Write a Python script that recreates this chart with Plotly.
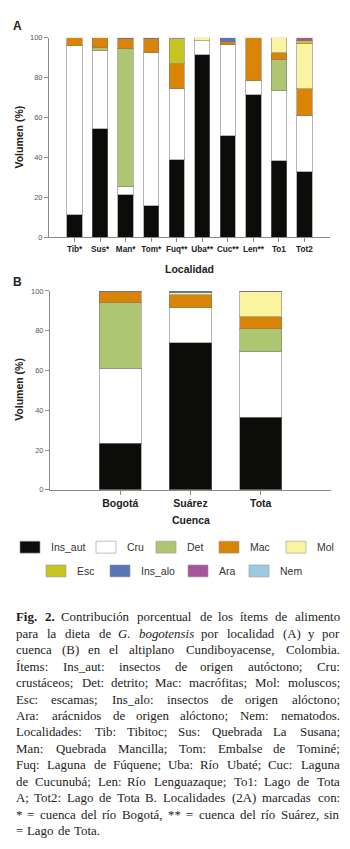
import unicodedata
import plotly.graph_objects as go

# ---------------- data ----------------
items = ["Ins_aut", "Cru", "Det", "Mac", "Mol", "Esc", "Ins_alo", "Ara", "Nem"]
colors = ["#0c0c09", "#ffffff", "#aec672", "#d98307", "#faf4a1", "#c6c322", "#5a75b3", "#a5559b", "#9ccbe0"]

localidades = ["Tib*", "Sus*", "Man*", "Tom*", "Fuq**", "Uba**", "Cuc**", "Len**", "To1", "Tot2"]
ins_aut_a = [11.5, 54.5, 21.5, 16, 39, 91.5, 51, 71.5, 38.5, 33]
cru_a = [84.5, 39, 4, 76.5, 35.5, 7, 45.5, 7, 35, 28]
det_a = [0, 1.5, 69, 0, 0, 0, 0, 0, 15.5, 0]
mac_a = [4, 5, 5, 7, 12.5, 0, 1.5, 21.5, 3.5, 13.5]
mol_a = [0, 0, 0, 0, 0, 1.5, 0, 0, 7.5, 22.5]
esc_a = [0, 0, 0, 0, 12.5, 0, 0, 0, 0, 1.5]
ins_alo_a = [0, 0, 0.5, 0.5, 0, 0, 2, 0, 0, 0]
ara_a = [0, 0, 0, 0, 0, 0, 0, 0, 0, 1.5]
nem_a = [0, 0, 0, 0, 0.5, 0, 0, 0, 0, 0]

cuencas = ["Bogotá", "Suárez", "Tota"]
ins_aut_b = [23.5, 74, 36.5]
cru_b = [37.5, 17.5, 33]
det_b = [33, 0, 11.5]
mac_b = [5.5, 6.5, 6]
mol_b = [0, 1, 12.5]
esc_b = [0, 0, 0]
ins_alo_b = [0.5, 1, 0]
ara_b = [0, 0, 0.5]
nem_b = [0, 0, 0]

y_ticks = [0, 20, 40, 60, 80, 100]

series_a = [ins_aut_a, cru_a, det_a, mac_a, mol_a, esc_a, ins_alo_a, ara_a, nem_a]
series_b = [ins_aut_b, cru_b, det_b, mac_b, mol_b, esc_b, ins_alo_b, ara_b, nem_b]

caption_lines = [
    "<b>Fig.</b> <b>2.</b> Contribución porcentual de los ítems de alimento",
    "para la dieta de <i>G.</i> <i>bogotensis</i> por localidad (A) y por",
    "cuenca (B) en el altiplano Cundiboyacense, Colombia.",
    "Ítems: Ins_aut: insectos de origen autóctono; Cru:",
    "crustáceos; Det: detrito; Mac: macrófitas; Mol: moluscos;",
    "Esc: escamas; Ins_alo: insectos de origen alóctono;",
    "Ara: arácnidos de origen alóctono; Nem: nematodos.",
    "Localidades: Tib: Tibitoc; Sus: Quebrada La Susana;",
    "Man: Quebrada Mancilla; Tom: Embalse de Tominé;",
    "Fuq: Laguna de Fúquene; Uba: Río Ubaté; Cuc: Laguna",
    "de Cucunubá; Len: Río Lenguazaque; To1: Lago de Tota",
    "A; Tot2: Lago de Tota B. Localidades (2A) marcadas con:",
    "* = cuenca del río Bogotá, ** = cuenca del río Suárez, sin",
    "= Lago de Tota.",
]

# ---------------- layout helpers ----------------
W, H = 350, 849
def px(x):
    return x / W
def py(y):
    return 1 - y / H

def nz(v):
    return [None if x == 0 else x for x in v]

fig = go.Figure()
edge = dict(color="rgba(120,120,120,0.55)", width=1)
for name, col, va, vb in zip(items, colors, series_a, series_b):
    fig.add_trace(go.Bar(x=localidades, y=nz(va), name=name, marker=dict(color=col, line=edge),
                         width=0.6, xaxis="x", yaxis="y", showlegend=False, hoverinfo="skip"))
    fig.add_trace(go.Bar(x=cuencas, y=nz(vb), name=name, marker=dict(color=col, line=edge),
                         width=0.6, xaxis="x2", yaxis="y2", showlegend=False, hoverinfo="skip"))

sans = "Liberation Sans, Arial, sans-serif"
serif = "Liberation Serif, Times New Roman, serif"
axcol = "#8a8a8a"

common_y = dict(range=[0, 100], tickvals=y_ticks, showgrid=False, zeroline=False,
                showline=True, linecolor=axcol, linewidth=1, ticks="outside", ticklen=4,
                tickcolor=axcol, tickfont=dict(family=sans, size=7.5, color="#555"))
common_x = dict(type="category", showgrid=False, zeroline=False, showline=True,
                linecolor=axcol, linewidth=1, ticks="outside", ticklen=4, tickcolor=axcol)

fig.update_layout(
    width=W, height=H, autosize=False,
    margin=dict(l=0, r=0, t=0, b=0),
    paper_bgcolor="white", plot_bgcolor="white",
    barmode="stack", bargap=0.4,
    xaxis=dict(common_x, domain=[px(49), px(330)], range=[-1, 10], anchor="y",
               tickfont=dict(family=sans, size=8.2, color="#222", weight="bold")),
    yaxis=dict(common_y, domain=[py(236), py(34)], anchor="x"),
    xaxis2=dict(common_x, domain=[px(50), px(331)], range=[-1, 3], anchor="y2",
                tickfont=dict(family=sans, size=10.5, color="#222", weight="bold")),
    yaxis2=dict(common_y, domain=[py(491), py(290)], anchor="x2"),
)

ann = []
def add_text(x, y, text, size, family=sans, color="#222", xanchor="center", angle=0, bold=False):
    ann.append(dict(x=px(x), y=py(y), xref="paper", yref="paper", text=text, showarrow=False,
                    xanchor=xanchor, yanchor="middle", textangle=angle,
                    font=dict(family=family, size=size, color=color, weight="bold" if bold else "normal")))

add_text(17.5, 22, "A", 12, bold=True)
add_text(17.5, 281, "B", 12, bold=True)
add_text(19, 135, "Volumen (%)", 10.5, angle=-90, bold=True)
add_text(19, 390, "Volumen (%)", 10.5, angle=-90, bold=True)
add_text(189.5, 268, "Localidad", 10.5, bold=True)
add_text(190.5, 522, "Cuenca", 10.5, bold=True)

# ---------------- legend (manual) ----------------
legend_pos = [  # swatch left x, row y
    (20, 549), (96, 549), (156, 549), (219, 549), (286, 549),
    (46, 573), (110, 573), (188, 573), (249, 573),
]
shapes = []
for (lx, ly), name, col in zip(legend_pos, items, colors):
    shapes.append(dict(type="rect", xref="paper", yref="paper",
                       x0=px(lx), x1=px(lx + 20), y0=py(ly + 6), y1=py(ly - 6),
                       fillcolor=col, line=dict(color="rgba(150,150,150,0.6)", width=1)))
    add_text(lx + 29, ly, name, 10.5, color="#333", xanchor="left")

# ---------------- caption (justified) ----------------
TW = {}
for chars, w in [("abdghnopquvxy", 500), ("ce", 444), ("fr", 333), ("ijlt", 278), ("m", 778),
                 ("s", 389), ("k", 500), ("w", 722), ("z", 444),
                 ("ADGHKNOQUVXY", 722), ("BCR", 667), ("EL", 611), ("FPS", 556), ("IJ", 333),
                 ("M", 889), ("T", 611), ("W", 944), ("Z", 611),
                 ("0123456789", 500), (".,", 250), (":;", 278), ("()", 333), ("_*", 500), ("=", 564)]:
    for ch in chars:
        TW[ch] = w
TW["J"] = 389

def strip(s):
    for t in ("<b>", "</b>", "<i>", "</i>"):
        s = s.replace(t, "")
    return s

def width(word, size):
    base = unicodedata.normalize("NFD", strip(word))
    tot = sum(TW.get(ch, 0 if unicodedata.combining(ch) else 500) for ch in base)
    if "<b>" in word:
        tot *= 1.06
    return tot * size / 1000 * 1.02

left, right = 16, 340
cap_size = 12.9
# shrink if the tightest line would leave too little room between words
while True:
    ok = all((right - left - sum(width(w, cap_size) for w in ln.split(" "))) / (len(ln.split(" ")) - 1)
             >= 0.22 * cap_size for ln in caption_lines[:-1])
    if ok:
        break
    cap_size -= 0.1

line_y0, line_dy = 620, 16.6
for i, line in enumerate(caption_lines):
    words = line.split(" ")
    ws = [width(w, cap_size) for w in words]
    y = line_y0 + i * line_dy
    last = i == len(caption_lines) - 1
    gap = 0.25 * cap_size if last else (right - left - sum(ws)) / (len(words) - 1)
    x = left
    for j, (w, wd) in enumerate(zip(words, ws)):
        if not last and j == len(words) - 1:
            xa, xx = "right", right + 2
        elif j == 0:
            xa, xx = "left", left - 2
        else:
            xa, xx = "center", x + wd / 2
        ann.append(dict(x=px(xx), y=py(y), xref="paper", yref="paper", text=w, showarrow=False,
                        xanchor=xa, yanchor="middle",
                        font=dict(family=serif, size=cap_size, color="#222")))
        x += wd + gap

fig.update_layout(annotations=ann, shapes=shapes)
fig.write_html("out.html", config={"displayModeBar": False},
               post_script="document.body.style.margin='0px';document.body.style.overflow='hidden';")
